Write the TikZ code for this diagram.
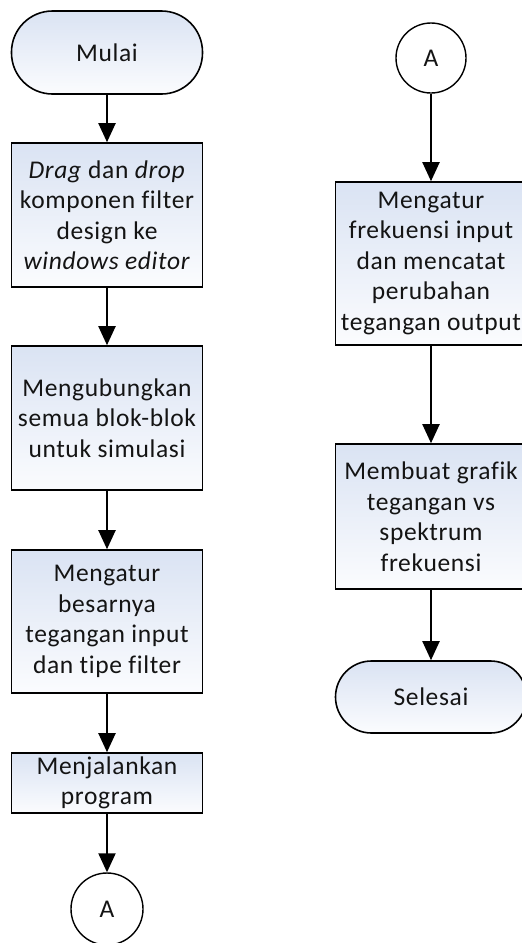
\documentclass[tikz,border=0pt]{standalone}
\usepackage{fontspec}
\setmainfont{Carlito}[LetterSpace=2.5,Ligatures={NoCommon,NoRare,NoDiscretionary}]
\usetikzlibrary{arrows.meta}
\definecolor{topc}{RGB}{218,227,243}
\definecolor{botc}{RGB}{251,252,254}
\definecolor{txt}{RGB}{20,20,20}
\begin{document}
\begin{tikzpicture}[x=1pt,y=-1pt,
  base/.style={draw=black,line width=1.6pt,top color=topc,bottom color=botc,
    inner sep=0pt,align=center,text=txt,font=\fontsize{25.5}{30.5}\selectfont},
  proc/.style={base,rectangle,minimum width=191pt},
  term/.style={base,rectangle,minimum width=191pt,rounded corners=#1},
  conn/.style={draw=black,line width=1.4pt,circle,fill=white,minimum size=72pt,inner sep=0pt,
    text=txt,font=\fontsize{25.5}{30.5}\selectfont},
  flow/.style={line width=2pt,-{Triangle[length=19pt,width=17pt]}}]
\useasboundingbox (0,0) rectangle (522,943);
\node[term=41pt,minimum height=83pt] (mulai) at (107,52.5) {Mulai};
\node[proc,minimum height=144pt] (b1) at (107,215) {\textit{Drag} dan \textit{drop}\\komponen filter\\design ke\\\textit{windows editor}};
\node[proc,minimum height=144pt] (b2) at (107,418) {Mengubungkan\\semua blok-blok\\untuk simulasi};
\node[proc,minimum height=143pt] (b3) at (107,621.5) {Mengatur\\besarnya\\tegangan input\\dan tipe filter};
\node[proc,minimum height=60pt] (b4) at (107,783) {Menjalankan\\program};
\node[conn] (a1) at (107,909) {A};
\node[conn,minimum size=70pt] (a2) at (431,58) {A};
\node[proc,minimum height=163pt] (b5) at (431,263.5) {Mengatur\\frekuensi input\\dan mencatat\\perubahan\\tegangan output};
\node[proc,minimum height=145pt] (b6) at (431,516.5) {Membuat grafik\\tegangan vs\\spektrum\\frekuensi};
\node[term=36pt,minimum height=72pt] (selesai) at (431,697) {Selesai};
\draw[flow] (mulai) -- (b1);
\draw[flow] (b1) -- (b2);
\draw[flow] (b2) -- (b3);
\draw[flow] (b3) -- (b4);
\draw[flow] (b4) -- (a1);
\draw[flow] (a2) -- (b5);
\draw[flow] (b5) -- (b6);
\draw[flow] (b6) -- (selesai);
\end{tikzpicture}
\end{document}
